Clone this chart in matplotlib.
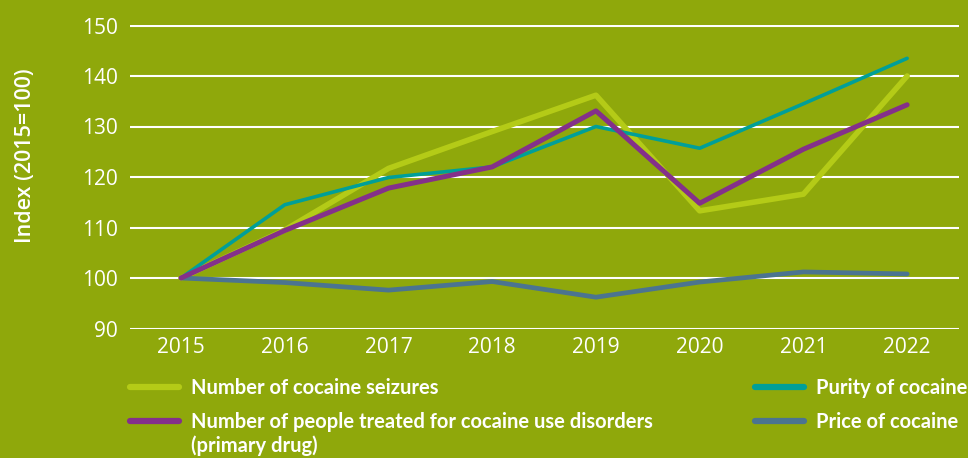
import numpy as np
import matplotlib
matplotlib.use('Agg')
import matplotlib.pyplot as plt

years = [2015, 2016, 2017, 2018, 2019, 2020, 2021, 2022]
seizures = [100, 109.5, 121.7, 129.0, 136.2, 113.3, 116.6, 140.0]
treated = [100, 109.4, 117.8, 122.0, 133.1, 114.8, 125.5, 134.3]
purity = [100, 114.5, 119.9, 122.0, 130.0, 125.7, 134.5, 143.5]
price = [100, 99.1, 97.6, 99.3, 96.2, 99.2, 101.2, 100.8]

labels = ['Number of cocaine seizures',
          'Number of people treated for cocaine use disorders',
          'Purity of cocaine',
          'Price of cocaine']
label_extra = '(primary drug)'
yticks = [90, 100, 110, 120, 130, 140, 150]

bg = '#8fa80b'
c_seiz = '#b4cb17'
c_treat = '#84308a'
c_pur = '#009f98'
c_price = '#4b7490'

plt.rcParams['font.family'] = ['Open Sans', 'DejaVu Sans']

fig = plt.figure(figsize=(9.68, 4.58), dpi=100, facecolor=bg)
ax = fig.add_axes([130/968, 1-328.5/458, (959-130)/968, (328.5-25.5)/458])
ax.set_facecolor(bg)

for y in yticks:
    ax.axhline(y, color='white', lw=1.5, zorder=1)

l1, = ax.plot(years, seizures, color=c_seiz, lw=4, solid_capstyle='round', zorder=3)
l3, = ax.plot(years, purity, color=c_pur, lw=2.6, solid_capstyle='round', zorder=4)
l2, = ax.plot(years, treated, color=c_treat, lw=3.6, solid_capstyle='round', zorder=5)
l4, = ax.plot(years, price, color=c_price, lw=3.4, solid_capstyle='round', zorder=3)

ax.set_xlim(2014.508, 2022.5)
ax.set_ylim(90, 150)
ax.set_xticks(years)
ax.set_yticks(yticks)
for s in ax.spines.values():
    s.set_visible(False)
ax.tick_params(length=0, colors='white', labelsize=15)
ax.tick_params(axis='x', pad=6)
ax.tick_params(axis='y', pad=9)
ax.set_ylabel('Index (2015=100)', color='white', fontsize=15.5, fontweight='semibold')
ax.yaxis.set_label_coords(-0.113, 0.57)

legprop = {'family': ['Lato', 'DejaVu Sans'], 'weight': 'bold', 'size': 14.5}
common = dict(loc='upper left', frameon=False, prop=legprop, labelcolor='white',
              handlelength=2.45, handletextpad=0.6, labelspacing=0.72,
              borderpad=0, borderaxespad=0)
leg1 = fig.legend([l1, l2], labels[:2], bbox_to_anchor=(130/968, 1-378/458), **common)
leg2 = fig.legend([l3, l4], labels[2:], bbox_to_anchor=(755/968, 1-378/458), **common)
for lg in (leg1, leg2):
    for h in lg.legend_handles:
        h.set_linewidth(4.5)
        h.set_solid_capstyle('round')

fig.canvas.draw()
bb = leg1.get_texts()[1].get_window_extent()
fig.text(bb.x0 / fig.bbox.width, (bb.y0 - 3) / fig.bbox.height, label_extra,
         ha='left', va='top', color='white', **legprop)

fig.savefig('out.png', dpi=100, facecolor=bg)
